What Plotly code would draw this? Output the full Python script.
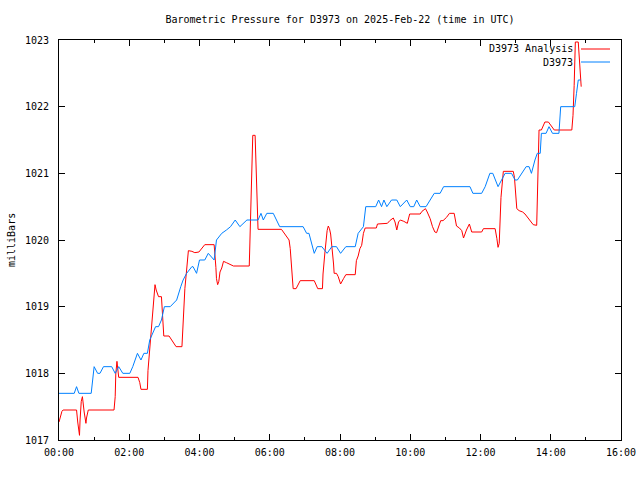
import plotly.graph_objects as go

DAY = "2025-02-22"
TITLE = "Barometric Pressure for D3973 on 2025-Feb-22 (time in UTC)"
Y_LABEL = "milliBars"
OBS_NAME = "D3973"
ANA_NAME = "D3973 Analysis"

# Observed station pressure (blue)
obs_times = ["00:00", "00:26", "00:30", "00:34", "00:55", "01:00", "01:06", "01:10", "01:16", "01:30",
             "01:36", "01:42", "01:49", "02:01", "02:06", "02:14", "02:20", "02:25", "02:31", "02:35",
             "02:45", "02:50", "02:55", "03:00", "03:10", "03:21", "03:28", "03:32", "03:38", "03:47",
             "03:49", "03:55", "04:00", "04:09", "04:15", "04:25", "04:29", "04:38", "04:46", "04:53",
             "05:01", "05:09", "05:21", "05:40", "05:45", "05:49", "05:55", "06:06", "06:17", "06:57",
             "07:03", "07:07", "07:16", "07:21", "07:29", "07:38", "07:46", "07:54", "08:01", "08:10",
             "08:26", "08:31", "08:40", "08:44", "09:01", "09:06", "09:11", "09:15", "09:20", "09:28",
             "09:37", "09:43", "09:54", "10:00", "10:06", "10:11", "10:17", "10:27", "10:34", "10:41",
             "10:51", "10:57", "11:42", "11:47", "12:02", "12:08", "12:16", "12:21", "12:30", "12:36",
             "12:42", "12:53", "12:59", "13:03", "13:10", "13:18", "13:23", "13:27", "13:33", "13:37",
             "13:42", "13:44", "13:52", "13:57", "14:03", "14:14", "14:17", "14:41", "14:44", "14:47",
             "14:51"]
obs_values = [1017.7, 1017.7, 1017.8, 1017.7, 1017.7, 1018.1, 1018.0, 1018.0, 1018.1, 1018.1,
              1018.0, 1018.1, 1018.0, 1018.0, 1018.1, 1018.3, 1018.2, 1018.3, 1018.3, 1018.5,
              1018.7, 1018.7, 1018.8, 1019.0, 1019.0, 1019.1, 1019.3, 1019.4, 1019.5, 1019.6,
              1019.6, 1019.5, 1019.7, 1019.7, 1019.8, 1019.7, 1020.0, 1020.1, 1020.15, 1020.2,
              1020.3, 1020.2, 1020.3, 1020.3, 1020.4, 1020.3, 1020.4, 1020.4, 1020.2, 1020.2,
              1020.1, 1020.1, 1019.8, 1019.9, 1019.9, 1019.8, 1019.9, 1019.9, 1019.8, 1019.9,
              1019.9, 1020.1, 1020.2, 1020.5, 1020.5, 1020.6, 1020.5, 1020.6, 1020.5, 1020.6,
              1020.6, 1020.5, 1020.6, 1020.5, 1020.5, 1020.6, 1020.5, 1020.5, 1020.6, 1020.7,
              1020.7, 1020.8, 1020.8, 1020.7, 1020.7, 1020.8, 1021.0, 1021.0, 1020.8, 1020.9,
              1021.0, 1021.0, 1020.9, 1020.9, 1021.0, 1021.1, 1021.1, 1021.0, 1021.2, 1021.3,
              1021.3, 1021.6, 1021.6, 1021.7, 1021.6, 1021.6, 1022.0, 1022.0, 1022.2, 1022.4,
              1022.4]

# Analysis pressure (red)
ana_times = ["00:00", "00:02", "00:05", "00:07", "00:30", "00:32", "00:33", "00:35", "00:36", "00:38",
             "00:40", "00:41", "00:43", "00:46", "00:47", "00:50", "01:34", "01:36", "01:37", "01:39",
             "01:40", "01:42", "02:15", "02:18", "02:20", "02:31", "02:32", "02:35", "02:38", "02:41",
             "02:44", "02:46", "02:50", "02:55", "02:57", "02:59", "03:08", "03:13", "03:20", "03:30",
             "03:32", "03:35", "03:38", "03:41", "03:47", "03:52", "03:59", "04:06", "04:09", "04:25",
             "04:26", "04:28", "04:29", "04:31", "04:33", "04:35", "04:38", "04:41", "04:46", "04:52",
             "04:58", "05:25", "05:26", "05:27", "05:29", "05:31", "05:35", "05:36", "05:38", "05:39",
             "05:40", "06:20", "06:23", "06:28", "06:33", "06:35", "06:37", "06:39", "06:40", "06:45",
             "06:49", "06:52", "07:16", "07:20", "07:22", "07:30", "07:31", "07:34", "07:36", "07:38",
             "07:40", "07:42", "07:44", "07:46", "07:48", "07:49", "07:50", "07:54", "07:57", "08:01",
             "08:06", "08:10", "08:26", "08:28", "08:31", "08:34", "08:37", "08:40", "08:43", "09:02",
             "09:04", "09:21", "09:25", "09:31", "09:34", "09:37", "09:40", "09:43", "09:49", "09:55",
             "09:59", "10:17", "10:20", "10:26", "10:29", "10:34", "10:38", "10:42", "10:45", "10:48",
             "10:52", "10:56", "11:02", "11:07", "11:15", "11:19", "11:24", "11:28", "11:31", "11:36",
             "11:41", "11:45", "12:02", "12:05", "12:25", "12:28", "12:30", "12:32", "12:33", "12:35",
             "12:39", "12:56", "12:58", "13:00", "13:02", "13:06", "13:12", "13:16", "13:22", "13:26",
             "13:30", "13:36", "13:37", "13:39", "13:40", "13:44", "13:47", "13:50", "13:56", "14:00",
             "14:06", "14:36", "14:38", "14:40", "14:42", "14:47", "14:49", "14:52"]
ana_values = [1017.27, 1017.34, 1017.43, 1017.45, 1017.45, 1017.27, 1017.17, 1017.07, 1017.30, 1017.58,
              1017.65, 1017.55, 1017.42, 1017.25, 1017.33, 1017.45, 1017.45, 1017.65, 1017.99, 1018.18,
              1018.08, 1017.94, 1017.94, 1017.86, 1017.76, 1017.76, 1018.04, 1018.39, 1018.64, 1019.04,
              1019.33, 1019.25, 1019.15, 1019.15, 1018.90, 1018.56, 1018.56, 1018.50, 1018.40, 1018.40,
              1018.78, 1019.27, 1019.55, 1019.84, 1019.83, 1019.81, 1019.82, 1019.89, 1019.93, 1019.93,
              1019.84, 1019.59, 1019.42, 1019.33, 1019.38, 1019.52, 1019.58, 1019.68, 1019.66, 1019.64,
              1019.61, 1019.61, 1019.93, 1020.59, 1021.22, 1021.57, 1021.57, 1021.32, 1020.87, 1020.39,
              1020.16, 1020.16, 1020.12, 1020.07, 1020.00, 1019.87, 1019.62, 1019.42, 1019.27, 1019.27,
              1019.34, 1019.39, 1019.39, 1019.29, 1019.27, 1019.27, 1019.49, 1019.79, 1020.00, 1020.14,
              1020.21, 1020.17, 1020.09, 1019.92, 1019.79, 1019.64, 1019.50, 1019.50, 1019.45, 1019.34,
              1019.42, 1019.48, 1019.48, 1019.69, 1019.76, 1019.87, 1019.92, 1020.10, 1020.18, 1020.18,
              1020.24, 1020.25, 1020.29, 1020.33, 1020.27, 1020.15, 1020.27, 1020.30, 1020.28, 1020.25,
              1020.39, 1020.39, 1020.43, 1020.47, 1020.42, 1020.32, 1020.20, 1020.12, 1020.11, 1020.18,
              1020.29, 1020.29, 1020.34, 1020.40, 1020.40, 1020.21, 1020.18, 1020.14, 1020.03, 1020.15,
              1020.24, 1020.12, 1020.12, 1020.17, 1020.17, 1020.02, 1019.89, 1019.95, 1020.29, 1020.64,
              1021.03, 1021.03, 1020.94, 1020.74, 1020.47, 1020.44, 1020.42, 1020.39, 1020.32, 1020.26,
              1020.23, 1020.22, 1020.59, 1021.30, 1021.65, 1021.65, 1021.72, 1021.77, 1021.77, 1021.72,
              1021.65, 1021.65, 1021.87, 1022.32, 1022.97, 1022.97, 1022.65, 1022.30]

x_ticks_hours = list(range(0, 17, 2))
y_range = [1017, 1023]

RED = "#ff0000"
BLUE = "#0080ff"
FONT = dict(family="DejaVu Sans Mono", size=10, color="black")

W, H = 640, 480
PL, PR, PT, PB = 59, 621, 40, 440   # plot area in window pixels


def to_dt(ts):
    return [f"{DAY} {t}" for t in ts]


fig = go.Figure()
fig.add_trace(go.Scatter(x=to_dt(ana_times), y=ana_values, mode="lines",
                         line=dict(color=RED, width=1), name=ANA_NAME))
fig.add_trace(go.Scatter(x=to_dt(obs_times), y=obs_values, mode="lines",
                         line=dict(color=BLUE, width=1), name=OBS_NAME))

tickvals = [f"{DAY} {h:02d}:00" for h in x_ticks_hours]
ticktext = [f"{h:02d}:00" for h in x_ticks_hours]

axis_common = dict(showline=True, linecolor="black", linewidth=1, mirror="ticks",
                   ticks="inside", ticklen=6, tickcolor="black", tickwidth=1,
                   showgrid=False, zeroline=False, tickfont=FONT, automargin=False)

fig.update_layout(
    width=W, height=H, autosize=False,
    margin=dict(l=PL, r=W - PR, t=PT, b=H - PB, pad=0),
    paper_bgcolor="white", plot_bgcolor="white",
    showlegend=False,
    font=FONT,
    title=dict(text=TITLE, font=FONT, x=340 / W, xref="container", xanchor="center",
               y=1 - 19 / H, yref="container", yanchor="middle"),
    xaxis=dict(type="date", range=[f"{DAY} 00:00", f"{DAY} 16:00"],
               tickmode="array", tickvals=tickvals, ticktext=ticktext,
               ticklabelstandoff=3,
               minor=dict(dtick=3600000, tick0=f"{DAY} 00:00", ticks="inside", ticklen=3,
                          tickcolor="black", showgrid=False),
               **axis_common),
    yaxis=dict(range=y_range, dtick=1, tickformat="d", ticklabelstandoff=7, **axis_common),
)

pw, ph = PR - PL, PB - PT

# y-axis label
fig.add_annotation(text=Y_LABEL, xref="paper", yref="paper", x=(11 - PL) / pw, y=0.5,
                   textangle=-90, showarrow=False, xanchor="center", yanchor="middle", font=FONT)

# gnuplot-style legend (text left of sample line)
for i, (name, color) in enumerate([(ANA_NAME, RED), (OBS_NAME, BLUE)]):
    ypx = 49 + i * 13
    yp = (PB - ypx) / ph
    fig.add_annotation(text=name, xref="paper", yref="paper", x=(575 - PL) / pw, y=yp,
                       xanchor="right", yanchor="middle", showarrow=False, font=FONT)
    fig.add_shape(type="line", xref="paper", yref="paper", x0=(581 - PL) / pw, x1=(610 - PL) / pw,
                  y0=yp, y1=yp, line=dict(color=color, width=1))

fig.write_html(
    "out.html",
    config={"displayModeBar": False, "responsive": False},
    post_script="document.body.style.margin='0';document.body.style.overflow='hidden';",
)
